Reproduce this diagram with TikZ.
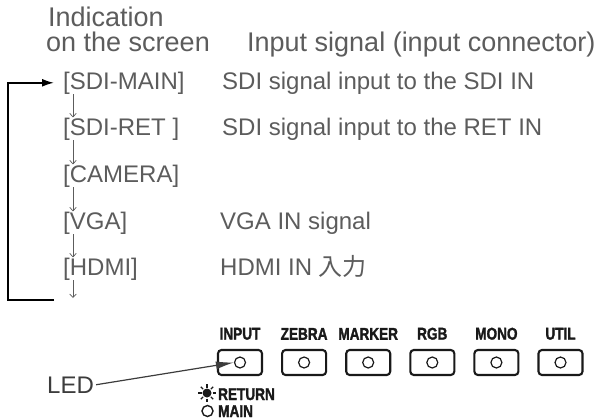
\documentclass[tikz,border=0pt]{standalone}
\usepackage{fontspec}
\setmainfont{Liberation Sans}
\newfontfamily\jpfont{Noto Sans CJK JP}
\newfontfamily\keyfont[FakeStretch=0.8, UprightFeatures={FakeBold=1.6}]{Liberation Sans Bold}
\usetikzlibrary{arrows.meta,positioning}
\definecolor{txtgray}{RGB}{92,92,92}
\definecolor{ledgray}{RGB}{60,60,60}
\definecolor{keyblack}{RGB}{25,25,25}

\begin{document}
\begin{tikzpicture}[
  x=1pt, y=-1pt, >=Latex, node distance=18pt,
  lbl/.style={anchor=base west, inner sep=0pt, text=txtgray,
              font=\fontsize{24}{28}\selectfont},
  hdr/.style={lbl, font=\fontsize{27}{30}\selectfont},
  nxt/.style={->, txtgray, line width=0.7pt,
              >={Straight Barb[length=3.5pt,width=6.5pt]}},
  btn/.style={draw=keyblack, line width=2.1pt, rounded corners=3.5pt,
              minimum width=44pt, minimum height=25pt, inner sep=0pt},
  led/.style={circle, draw=keyblack, line width=1.2pt, minimum size=11pt, inner sep=0pt},
  key/.style={inner sep=0pt, text=keyblack,
              font=\keyfont\fontsize{17}{20}\selectfont}]
\useasboundingbox (0,0) rectangle (597,420);
% column headings
\node[hdr] (ind) at (48,27) {Indication};
\node[hdr] (ons) at (46,52) {on the screen};
\node[hdr] (isg) at (247,52) {Input signal (input connector)};
% indications
\node[lbl] (smain) at (63,89) {[SDI-MAIN]};
\node[lbl] (sret) at (63,135) {[SDI-RET ]};
\node[lbl] (cam) at (63,182) {[CAMERA]};
\node[lbl] (vga) at (63,229) {[VGA]};
\node[lbl] (hdmi) at (63,275) {[HDMI]};
\node[lbl] (smaintxt) at (222,89) {SDI signal input to the SDI IN};
\node[lbl] (srettxt) at (222,135) {SDI signal input to the RET IN};
\node[lbl] (vgatxt) at (220,229) {VGA IN signal};
\node[lbl] (hdmitxt) at (220,275) {HDMI IN {\jpfont 入力}};
\coordinate (hend) at (73,298);
\draw[nxt] ([xshift=10pt]smain.south west) -- ([xshift=10pt]sret.north west);
\draw[nxt] ([xshift=10pt]sret.south west) -- ([xshift=10pt]cam.north west);
\draw[nxt] ([xshift=10pt]cam.south west) -- ([xshift=10pt]vga.north west);
\draw[nxt] ([xshift=10pt]vga.south west) -- ([xshift=10pt]hdmi.north west);
\draw[nxt] ([xshift=10pt]hdmi.south west) -- (hend);
% back to the top
\coordinate (back) at (54,300);
\coordinate (corner) at (8,300);
\draw[->, line width=1.8pt, >={Latex[length=12pt,width=8pt]}]
  (back) -- (corner) |- ([xshift=-9pt]smain.west);
% buttons
\node[btn] (binput) at (240,362.5) {};
\node[btn, right=of binput] (bzebra) {};
\node[btn, right=of bzebra] (bmarker) {};
\node[btn, right=of bmarker] (brgb) {};
\node[btn, right=of brgb] (bmono) {};
\node[btn, right=of bmono] (butil) {};
\node[key, above=9pt of binput] (kinput) {INPUT};
\node[key, above=9pt of bzebra] (kzebra) {ZEBRA};
\node[key, above=9pt of bmarker] (kmarker) {MARKER};
\node[key, above=9pt of brgb] (krgb) {RGB};
\node[key, above=9pt of bmono] (kmono) {MONO};
\node[key, above=9pt of butil] (kutil) {UTIL};
\node[led] (linput) at (binput) {};
\node[led] (lzebra) at (bzebra) {};
\node[led] (lmarker) at (bmarker) {};
\node[led] (lrgb) at (brgb) {};
\node[led] (lmono) at (bmono) {};
\node[led] (lutil) at (butil) {};
% LED states
\node[circle, fill=keyblack, minimum size=9pt, inner sep=0pt] (sun) at (207,393) {};
\foreach \a in {0,45,...,315}
  \draw[keyblack, line width=1.4pt] (sun.center) ++(\a:5.5pt) -- ++(\a:3.2pt);
\node[led, minimum size=11pt, line width=1.4pt] (mainmark) at (207.5,411) {};
\node[key, anchor=base west] (kret) at (218,400) {RETURN};
\node[key, anchor=base west] (kmain) at (218,417) {MAIN};
\node[lbl, text=ledgray] (ledtxt) at (47,393) {LED};
\draw[->, ledgray, line width=1.2pt, >={Latex[length=18pt,width=8pt]}]
  ([xshift=2pt]ledtxt.east) -- (linput.west);
\end{tikzpicture}
\end{document}
